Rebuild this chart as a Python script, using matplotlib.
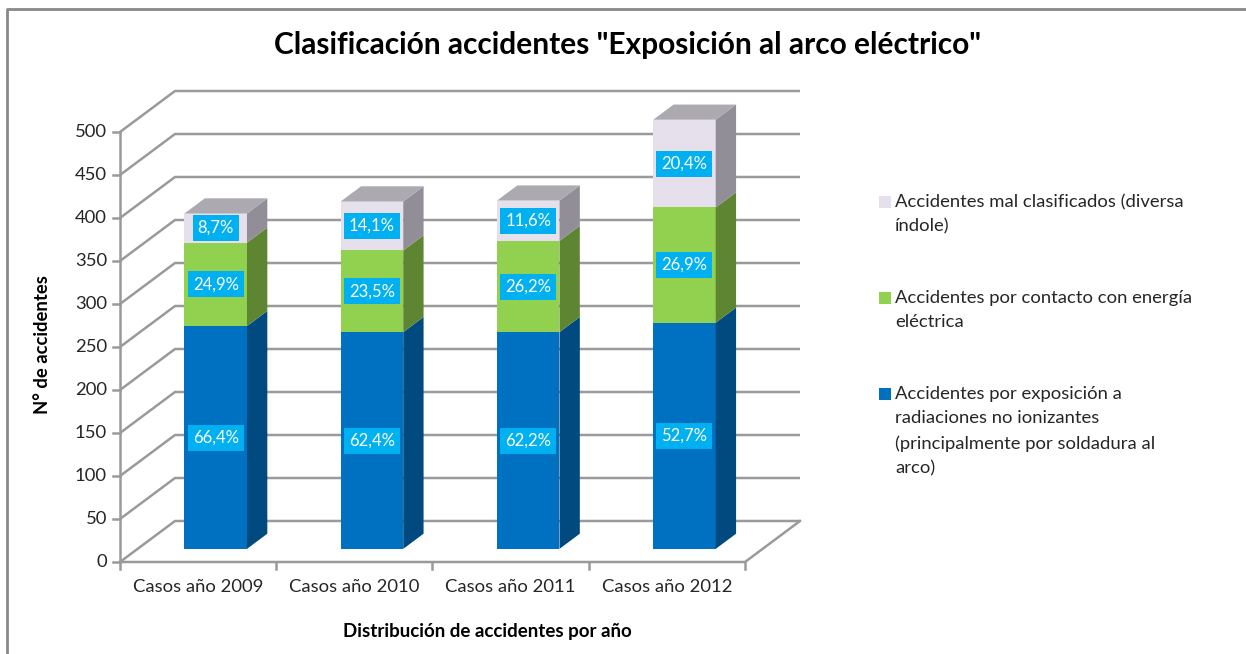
import matplotlib
matplotlib.use("Agg")
import matplotlib.pyplot as plt
from matplotlib.patches import Polygon, Rectangle
from matplotlib.lines import Line2D

plt.rcParams['font.family'] = ['Lato', 'DejaVu Sans']

# data
years = ["Casos año 2009", "Casos año 2010", "Casos año 2011", "Casos año 2012"]
radiaciones = [259, 252, 252, 263]
contacto = [97, 95, 106, 134]
mal_clasif = [34, 57, 47, 102]
pct_radiaciones = ["66,4%", "62,4%", "62,2%", "52,7%"]
pct_contacto = ["24,9%", "23,5%", "26,2%", "26,9%"]
pct_mal = ["8,7%", "14,1%", "11,6%", "20,4%"]
yticks = [0, 50, 100, 150, 200, 250, 300, 350, 400, 450, 500]

series = [
    (radiaciones, pct_radiaciones, "#0070C0", "#004A7F", "#005A9C",
     "Accidentes por exposición a\nradiaciones no ionizantes\n(principalmente por soldadura al\narco)"),
    (contacto, pct_contacto, "#92D050", "#5E8532", "#7AAE42",
     "Accidentes por contacto con energía\neléctrica"),
    (mal_clasif, pct_mal, "#E6E0EC", "#928E97", "#ADA9B1",
     "Accidentes mal clasificados (diversa\níndole)"),
]

W, H = 1246, 654
fig = plt.figure(figsize=(W / 100, H / 100), dpi=100)

# pixel layout of the plot box (front floor from x=120 to 745, y=0 at 562, 500 at 132)
px_cat = 156.25
px_unit = 0.86
x0_px, y0_px = 120, 562
xmax, ymax = 4.4, 560
ax = fig.add_axes([x0_px / W, (H - y0_px) / H, xmax * px_cat / W, ymax * px_unit / H])
ax.set_xlim(0, xmax)
ax.set_ylim(0, ymax)
ax.axis("off")

# oblique depth (full depth)
DX = 55 / px_cat
DY = 41 / px_unit
grid_c = "#9A9A9A"
txt_c = "#262626"

# back wall + side wall gridlines
for t in yticks:
    ax.plot([0, DX, 4 + DX], [t, t + DY, t + DY], color=grid_c, lw=1.8, zorder=1,
            clip_on=False, solid_capstyle="butt")
# floor
ax.plot([0, 4, 4 + DX], [0, 0, DY], color=grid_c, lw=1.8, zorder=1, clip_on=False)
# front vertical axis + ticks
ax.plot([0, 0], [0, 500], color=grid_c, lw=1.8, zorder=1, clip_on=False)
for t in yticks:
    ax.plot([-7 / px_cat, 0], [t, t], color=grid_c, lw=1.8, clip_on=False)
    ax.text(-13 / px_cat, t, str(t), ha="right", va="center", fontsize=13.3, color=txt_c)
for i in range(5):
    ax.plot([i, i], [0, -7 / px_unit], color=grid_c, lw=1.8, clip_on=False)
for i, lab in enumerate(years):
    ax.text(i + 0.5, -25 / px_unit, lab, ha="center", va="center", fontsize=13.3, color=txt_c)

# bars
f0 = 0.32
bw = 0.40
bdx = 0.37 * DX
bdy = 0.37 * DY
xs = [i + 0.5 - bw / 2 + f0 * DX for i in range(4)]
oy = f0 * DY
bottoms = [0, 0, 0, 0]
for vals, pcts, front, side, top, lab in series:
    ax.bar(xs, vals, width=bw, bottom=[b + oy for b in bottoms], align="edge",
           color=front, zorder=3)
    for i in range(4):
        xl = xs[i]
        xr = xs[i] + bw
        yb = bottoms[i] + oy
        yt = yb + vals[i]
        ax.add_patch(Polygon([(xr, yb), (xr + bdx, yb + bdy), (xr + bdx, yt + bdy), (xr, yt)],
                             closed=True, facecolor=side, edgecolor="none", zorder=3))
        ax.text(xl + bw / 2, (yb + yt) / 2, pcts[i], ha="center", va="center",
                fontsize=12, color="white", zorder=5,
                bbox=dict(boxstyle="square,pad=0.3", fc="#00B0F0", ec="none"))
    bottoms = [b + v for b, v in zip(bottoms, vals)]

# top faces
for i in range(4):
    xl = xs[i]
    xr = xs[i] + bw
    yt = bottoms[i] + oy
    ax.add_patch(Polygon([(xl, yt), (xl + bdx, yt + bdy), (xr + bdx, yt + bdy), (xr, yt)],
                         closed=True, facecolor=series[2][4], edgecolor="none", zorder=3))

# titles
fig.text(628 / W, 1 - 45 / H, 'Clasificación accidentes "Exposición al arco eléctrico"',
         ha="center", va="center", fontsize=21.5, fontweight="bold", color="#000000")
fig.text(43 / W, 1 - 345 / H, "N° de accidentes", rotation=90, ha="center", va="center",
         fontsize=13.3, fontweight="bold", color="#000000")
fig.text(487 / W, 1 - 631 / H, "Distribución de accidentes por año", ha="center", va="center",
         fontsize=13.5, fontweight="bold", color="#000000")

# legend (manual, marker aligned with first line)
leg_items = [series[2], series[1], series[0]]
leg_y = [202, 298, 394]
for s, y in zip(leg_items, leg_y):
    fig.add_artist(Rectangle((879 / W, 1 - (y + 6) / H), 12 / W, 12 / H,
                             transform=fig.transFigure, facecolor=s[2], edgecolor="none"))
    fig.text(895 / W, 1 - (y - 8) / H, s[5], ha="left", va="top", fontsize=13.3,
             linespacing=1.65, color=txt_c)

# outer border
fig.add_artist(Line2D([7 / W, 7 / W, 1.0], [0, 1 - 9 / H, 1 - 9 / H], transform=fig.transFigure,
                      color="#898989", lw=2))

fig.savefig("out.png", dpi=100)
